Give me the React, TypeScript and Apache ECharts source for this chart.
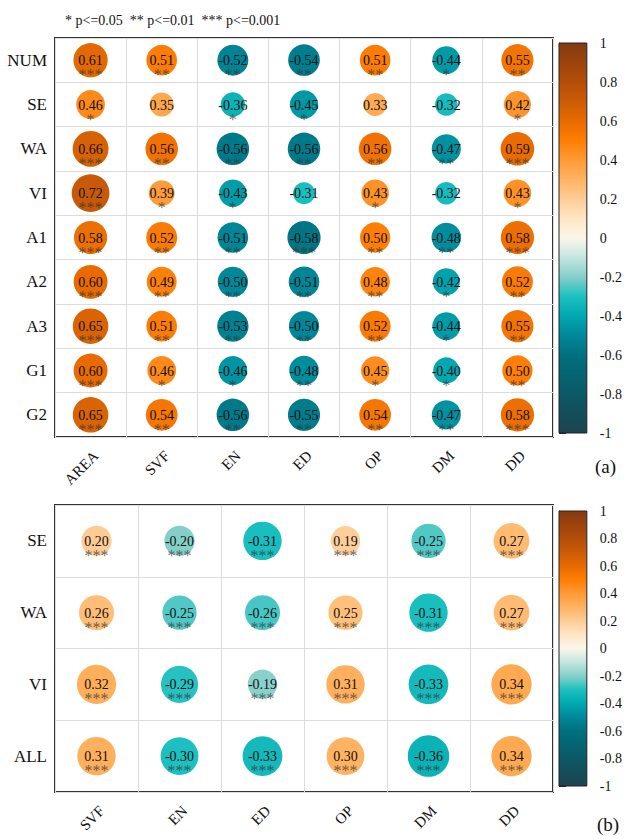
import React, { useEffect, useRef } from "react";
import * as echarts from "echarts";

const rowsA = ["NUM", "SE", "WA", "VI", "A1", "A2", "A3", "G1", "G2"];
const colsA = ["AREA", "SVF", "EN", "ED", "OP", "DM", "DD"];
const rA = [
  [0.61, 0.51, -0.52, -0.54, 0.51, -0.44, 0.55],
  [0.46, 0.35, -0.36, -0.45, 0.33, -0.32, 0.42],
  [0.66, 0.56, -0.56, -0.56, 0.56, -0.47, 0.59],
  [0.72, 0.39, -0.43, -0.31, 0.43, -0.32, 0.43],
  [0.58, 0.52, -0.51, -0.58, 0.5, -0.48, 0.58],
  [0.6, 0.49, -0.5, -0.51, 0.48, -0.42, 0.52],
  [0.65, 0.51, -0.53, -0.5, 0.52, -0.44, 0.55],
  [0.6, 0.46, -0.46, -0.48, 0.45, -0.4, 0.5],
  [0.65, 0.54, -0.56, -0.55, 0.54, -0.47, 0.58],
];
const sigA = [
  ["***", "**", "**", "**", "**", "*", "**"],
  ["*", "", "*", "*", "", "", "*"],
  ["***", "**", "**", "**", "**", "**", "***"],
  ["***", "*", "*", "", "*", "", "*"],
  ["***", "**", "**", "***", "**", "**", "***"],
  ["***", "**", "**", "**", "**", "*", "**"],
  ["***", "**", "**", "**", "**", "*", "**"],
  ["***", "*", "*", "**", "*", "*", "**"],
  ["***", "**", "**", "**", "**", "**", "***"],
];

const rowsB = ["SE", "WA", "VI", "ALL"];
const colsB = ["SVF", "EN", "ED", "OP", "DM", "DD"];
const rB = [
  [0.2, -0.2, -0.31, 0.19, -0.25, 0.27],
  [0.26, -0.25, -0.26, 0.25, -0.31, 0.27],
  [0.32, -0.29, -0.19, 0.31, -0.33, 0.34],
  [0.31, -0.3, -0.33, 0.3, -0.36, 0.34],
];
const sigB = [
  ["***", "***", "***", "***", "***", "***"],
  ["***", "***", "***", "***", "***", "***"],
  ["***", "***", "***", "***", "***", "***"],
  ["***", "***", "***", "***", "***", "***"],
];

const colorbarTicks = [-1, -0.8, -0.6, -0.4, -0.2, 0, 0.2, 0.4, 0.6, 0.8, 1];
const legendText = "* p<=0.05  ** p<=0.01  *** p<=0.001";

// colour ramp from -1 to 1 in steps of 0.1
const ramp = [
  "#1b4450", "#134e5a", "#0c5866", "#056472", "#00707f", "#00889a",
  "#00a8b0", "#1cc0c0", "#85cfc9", "#c3e6e0", "#fbf6ea", "#ffe6c6",
  "#ffcc96", "#ffb362", "#ff9a36", "#ff7e05", "#e86a00", "#cc5c08",
  "#b44e08", "#9c440c", "#843a10",
];

const FONT = "'Liberation Serif', 'Times New Roman', Times, serif";

function sizeScale(vals: number[][], dmin: number, dmax: number) {
  const abs = vals.flat().map((v) => Math.abs(v));
  const lo = Math.min(...abs);
  const hi = Math.max(...abs);
  return (r: number) =>
    Math.sqrt(dmin * dmin + ((dmax * dmax - dmin * dmin) * (Math.abs(r) - lo)) / (hi - lo));
}

function cells(vals: number[][]) {
  const out: number[][] = [];
  vals.forEach((row, ri) => row.forEach((r, ci) => out.push([ci, ri, r])));
  return out;
}

export default function App() {
  const ref = useRef<HTMLDivElement>(null);
  useEffect(() => {
    const chart = echarts.init(ref.current!, null, { renderer: "svg" });
    const sizeA = sizeScale(rA, 22, 37.7);
    const sizeB = sizeScale(rB, 29.5, 41.5);

    const gradStops = ramp
      .slice()
      .reverse()
      .map((c, i) => ({ offset: i / (ramp.length - 1), color: c }));

    const panelGrid = (top: number, height: number) => ({
      left: 55,
      top,
      width: 498,
      height,
      show: true,
      borderColor: "#333",
      borderWidth: 2,
      backgroundColor: "transparent",
    });
    const barGrid = (top: number, height: number) => ({
      left: 559,
      top,
      width: 29,
      height,
    });

    const catX = (data: string[], gridIndex: number) => ({
      type: "category",
      gridIndex,
      data,
      boundaryGap: true,
      axisLine: { show: false },
      axisTick: { show: false },
      splitLine: { show: true, interval: 0, lineStyle: { color: "#dcdcdc", width: 1 } },
      axisLabel: {
        interval: 0,
        rotate: 45,
        margin: 11,
        align: "right",
        verticalAlign: "top",
        fontSize: 15,
        fontFamily: FONT,
        color: "#111",
      },
    });
    const catY = (data: string[], gridIndex: number) => ({
      type: "category",
      gridIndex,
      data,
      inverse: true,
      boundaryGap: true,
      axisLine: { show: false },
      axisTick: { show: false },
      splitLine: { show: true, interval: 0, lineStyle: { color: "#dcdcdc", width: 1 } },
      axisLabel: { interval: 0, margin: 8, fontSize: 17, fontFamily: FONT, color: "#111" },
    });
    const barX = (gridIndex: number) => ({ type: "value", gridIndex, min: 0, max: 1, show: false });
    const barY = (gridIndex: number) => ({
      type: "value",
      gridIndex,
      min: -1,
      max: 1,
      interval: 0.2,
      position: "right",
      axisLine: { show: true, lineStyle: { color: "#222", width: 1 } },
      axisTick: { show: true, length: 7, lineStyle: { color: "#222" } },
      splitLine: { show: false },
      axisLabel: {
        margin: 13,
        fontSize: 14,
        fontFamily: FONT,
        color: "#111",
        formatter: (v: number) => String(Math.round(v * 10) / 10),
      },
    });

    const circles = (vals: number[][], xi: number, size: (r: number) => number) => ({
      type: "scatter",
      xAxisIndex: xi,
      yAxisIndex: xi,
      data: cells(vals),
      symbol: "circle",
      symbolSize: (v: number[]) => size(v[2]),
      itemStyle: { opacity: 1 },
      label: {
        show: true,
        position: "inside",
        offset: [0, 0.5],
        formatter: (p: any) => p.value[2].toFixed(2),
        fontSize: 14,
        fontFamily: FONT,
        color: "#111",
      },
      z: 3,
    });
    const stars = (vals: number[][], sig: string[][], xi: number) => ({
      type: "scatter",
      xAxisIndex: xi,
      yAxisIndex: xi,
      data: cells(vals),
      symbol: "circle",
      symbolSize: 1,
      itemStyle: { color: "rgba(0,0,0,0)", opacity: 1 },
      silent: true,
      label: {
        show: true,
        position: "inside",
        offset: [0, 14.5],
        formatter: (p: any) => sig[p.value[1]][p.value[0]],
        fontSize: 16,
        fontFamily: FONT,
        color: "rgba(55,55,55,0.75)",
      },
      z: 4,
    });
    const colorbar = (xi: number) => ({
      type: "custom",
      xAxisIndex: xi,
      yAxisIndex: xi,
      data: [[0, 1]],
      clip: false,
      renderItem: (_p: any, api: any) => {
        const a = api.coord([0, colorbarTicks[colorbarTicks.length - 1]]);
        const b = api.coord([1, colorbarTicks[0]]);
        return {
          type: "rect",
          shape: { x: a[0], y: a[1], width: b[0] - a[0], height: b[1] - a[1] },
          style: {
            fill: new echarts.graphic.LinearGradient(0, 0, 0, 1, gradStops),
            stroke: "#222",
            lineWidth: 1,
          },
        };
      },
    });

    chart.setOption({
      animation: false,
      backgroundColor: "#fff",
      title: [
        {
          text: legendText,
          left: 60,
          top: 8,
          textStyle: { fontSize: 14, fontWeight: "normal", fontFamily: FONT, color: "#111" },
        },
        {
          text: "(a)",
          left: 590,
          top: 452,
          textStyle: { fontSize: 19, fontWeight: "normal", fontFamily: FONT, color: "#111" },
        },
        {
          text: "(b)",
          left: 592,
          top: 810,
          textStyle: { fontSize: 19, fontWeight: "normal", fontFamily: FONT, color: "#111" },
        },
      ],
      grid: [panelGrid(38, 399), barGrid(43, 390), panelGrid(505, 287), barGrid(511, 275)],
      xAxis: [catX(colsA, 0), barX(1), catX(colsB, 2), barX(3)],
      yAxis: [catY(rowsA, 0), barY(1), catY(rowsB, 2), barY(3)],
      visualMap: [
        {
          type: "continuous",
          show: false,
          min: -1,
          max: 1,
          dimension: 2,
          seriesIndex: [0, 3],
          inRange: { color: ramp },
        },
      ],
      series: [
        circles(rA, 0, sizeA),
        stars(rA, sigA, 0),
        colorbar(1),
        circles(rB, 2, sizeB),
        stars(rB, sigB, 2),
        colorbar(3),
      ],
    });
    return () => chart.dispose();
  }, []);
  return (
    <div
      ref={ref}
      style={{ position: "fixed", left: 0, top: 0, width: 625, height: 839, background: "#fff" }}
    />
  );
}
